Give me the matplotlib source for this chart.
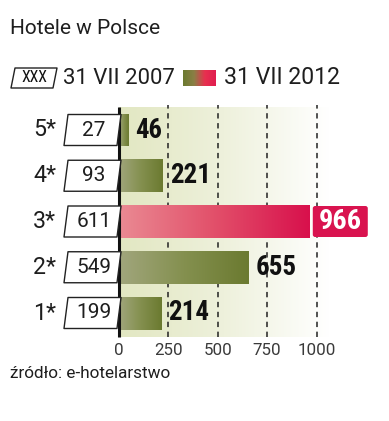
import matplotlib
matplotlib.use("Agg")
import matplotlib.pyplot as plt
import numpy as np
from matplotlib.colors import LinearSegmentedColormap
from matplotlib.patches import Polygon, FancyBboxPatch
from matplotlib import font_manager

categories = ["1*", "2*", "3*", "4*", "5*"]
values_2007 = [199, 549, 611, 93, 27]
values_2012 = [214, 655, 966, 221, 46]
xticks = [0, 250, 500, 750, 1000]
highlight = "3*"

fonts = {}
for f in font_manager.fontManager.ttflist:
    fonts.setdefault(f.name, set()).add(f.weight if isinstance(f.weight, int) else 400)

def pick(prefs, need_bold=False):
    for p in prefs:
        if p in fonts:
            if not need_bold or any(w >= 600 for w in fonts[p]):
                return p
    return "DejaVu Sans"

REG = pick(["Roboto", "Open Sans", "Lato", "DejaVu Sans"])
REG_W = "normal"
BOLD = pick(["Roboto Condensed", "Barlow Condensed", "Fira Sans Condensed",
             "Archivo Narrow", "PT Sans Narrow", "Liberation Sans Narrow", "Roboto"], True)
FAM = [REG, "DejaVu Sans"]
FAMB = [BOLD, "DejaVu Sans"]
TXT = "#1e1e1e"

W, H = 389, 421
fig = plt.figure(figsize=(W / 100, H / 100), dpi=100)
fig.canvas.draw()
renderer = fig.canvas.get_renderer()

def fit(t, target):
    for _ in range(3):
        w = t.get_window_extent(renderer).width
        if w > 0:
            t.set_fontsize(t.get_fontsize() * target / w)
    return t

x0_px, scale = 119.0, 0.1975
ax_left_px, ax_right_px = 10, 385
ax_top_px, ax_bot_px = 100, 340
yc1_px, ystep_px = 313.0, 45.75

ax = fig.add_axes([ax_left_px / W, 1 - ax_bot_px / H,
                   (ax_right_px - ax_left_px) / W, (ax_bot_px - ax_top_px) / H])
xlim = ((ax_left_px - x0_px) / scale, (ax_right_px - x0_px) / scale)
ylim = (-(ax_bot_px - yc1_px) / ystep_px, (yc1_px - ax_top_px) / ystep_px)
ax.set_xlim(*xlim)
ax.set_ylim(*ylim)
for s in ax.spines.values():
    s.set_visible(False)

bg_top = (yc1_px - 107) / ystep_px
bg_bot = -(337 - yc1_px) / ystep_px
bg_cmap = LinearSegmentedColormap.from_list("bg", ["#e2e7c2", "#eef1dc", "#ffffff"])
grad = np.linspace(0, 1, 256).reshape(1, -1)
ax.imshow(grad, extent=[0, 1060, bg_bot, bg_top], cmap=bg_cmap, aspect="auto", zorder=0)

for t in xticks[1:]:
    ax.plot([t, t], [bg_bot, bg_top + 0.05], color="#222222", lw=1.1,
            ls=(0, (3.5, 3)), zorder=1)

ypos = np.arange(len(categories))
bh = 33 / ystep_px
bars = ax.barh(ypos, values_2012, height=bh, color="none", zorder=2)
green = LinearSegmentedColormap.from_list("g", ["#a1a67d", "#84904f", "#6b7a30"])
red = LinearSegmentedColormap.from_list("r", ["#ea8a93", "#e2506a", "#d8104c"])
for i, (b, v, c) in enumerate(zip(bars, values_2012, categories)):
    cm = red if c == highlight else green
    im = ax.imshow(grad, extent=[0, v, i - bh / 2, i + bh / 2], cmap=cm,
                   aspect="auto", zorder=2)
    im.set_clip_path(b)

ax.plot([0, 0], [bg_bot, bg_top], color="#111111", lw=2.2, zorder=4,
        solid_capstyle="butt")

ax.set_xlim(*xlim)
ax.set_ylim(*ylim)
ax.set_yticks([])
ax.set_xticks(xticks)
ax.set_xticklabels([str(t) for t in xticks], fontfamily=FAM, fontweight=REG_W,
                   fontsize=11, color="#3a3a3a")
ax.tick_params(axis="x", length=0, pad=2)
fig.canvas.draw()
lbl = ax.get_xticklabels()[-1]
tick_fs = lbl.get_fontsize() * 38 / max(lbl.get_window_extent(renderer).width, 1)
for l in ax.get_xticklabels():
    l.set_fontsize(tick_fs)

px = 1 / scale
for i, (c, v7) in enumerate(zip(categories, values_2007)):
    yb, yt = i - 15.5 / ystep_px, i + 15.5 / ystep_px
    xl = (64 - x0_px) * px
    xr = (121 - x0_px) * px
    sl = 4 * px
    poly = Polygon([[xl, yb], [xr - sl, yb], [xr, yt], [xl + sl, yt]],
                   closed=True, fc="white", ec="#222222", lw=1.0, zorder=5,
                   joinstyle="round")
    ax.add_patch(poly)
    t = ax.text((94 - x0_px) * px, i, str(v7), ha="center", va="center",
                fontfamily=FAM, fontsize=15, color=TXT, zorder=6)
    fit(t, 35 * len(str(v7)) / 3)
    t = ax.text((56 - x0_px) * px, i, c, ha="right", va="center",
                fontfamily=FAM, fontsize=15, color=TXT, zorder=6)
    fit(t, 23)

for i, (c, v) in enumerate(zip(categories, values_2012)):
    if c == highlight:
        bx = v + 3 * px
        bw = 55 * px
        box = FancyBboxPatch((bx, i - 15.5 / ystep_px), bw, 31 / ystep_px,
                             boxstyle="round,pad=0,rounding_size=12",
                             mutation_aspect=(1 / ystep_px) / px,
                             fc="#d9134f", ec="none", zorder=5, clip_on=False)
        ax.add_patch(box)
        t = ax.text(bx + bw / 2, i, str(v), ha="center", va="center", fontfamily=FAMB,
                    fontweight="bold", fontsize=17, color="white", zorder=6)
        fit(t, 43)
    else:
        t = ax.text(v + 7 * px, i, str(v), ha="left", va="center", fontfamily=FAMB,
                    fontweight="bold", fontsize=17, color="#111111", zorder=6)
        fit(t, 41 * len(str(v)) / 3)

lax = fig.add_axes([0, 0, 1, 1], zorder=10)
lax.set_xlim(0, W)
lax.set_ylim(H, 0)
lax.axis("off")
t = lax.text(10, 28, "Hotele w Polsce", fontfamily=FAM, fontweight=REG_W, fontsize=15,
             color=TXT, va="center", ha="left")
fit(t, 150)
lax.add_patch(Polygon([[11, 88], [53, 88], [57, 68], [15, 68]], closed=True,
                      fc="white", ec="#222222", lw=1.0, joinstyle="round"))
t = lax.text(34, 78, "XXX", ha="center", va="center", fontfamily=FAMB, fontsize=12,
             color="#111111")
fit(t, 26)
t = lax.text(63, 78, "31 VII 2007", ha="left", va="center", fontfamily=FAM,
             fontweight=REG_W, fontsize=16, color=TXT)
fit(t, 112)
sw = LinearSegmentedColormap.from_list("sw", ["#6b7a30", "#8a7f45", "#e8304f", "#e01e50"])
lax.imshow(grad, extent=[183, 216, 86, 70], cmap=sw, aspect="auto")
lax.set_xlim(0, W)
lax.set_ylim(H, 0)
t = lax.text(224, 78, "31 VII 2012", ha="left", va="center", fontfamily=FAM,
             fontweight=REG_W, fontsize=16, color=TXT)
fit(t, 116)
t = lax.text(10, 373, "źródło: e-hotelarstwo", ha="left", va="center", fontfamily=FAM,
             fontweight=REG_W, fontsize=12, color=TXT)
fit(t, 160)

fig.savefig("out.png", dpi=100)
